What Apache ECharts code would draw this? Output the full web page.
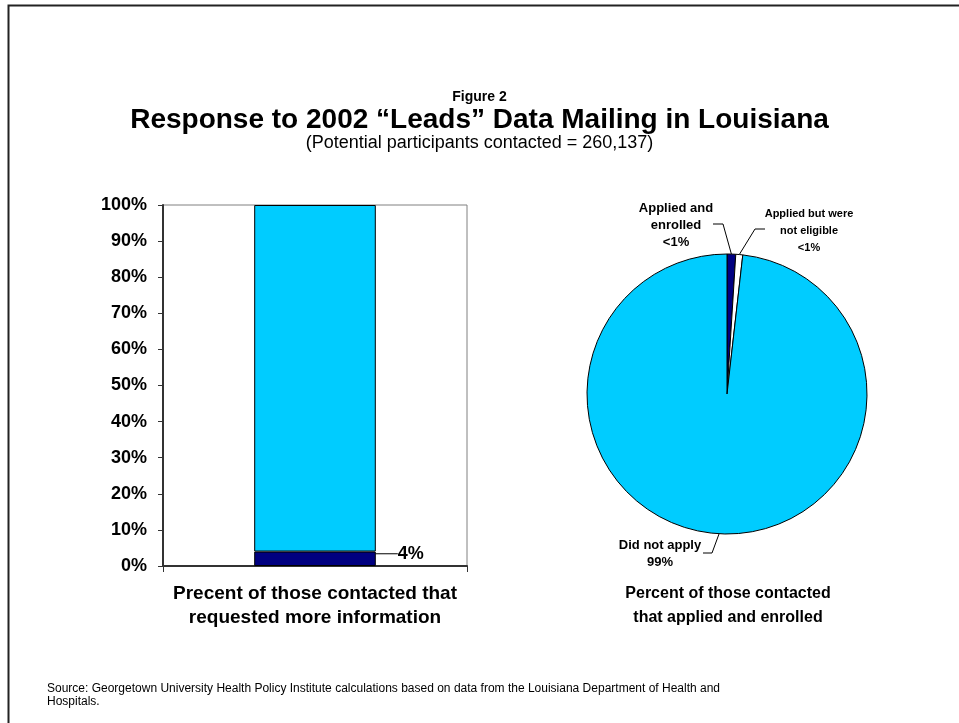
<!DOCTYPE html>
<html>
<head>
<meta charset="utf-8">
<script src="https://cdn.jsdelivr.net/npm/echarts@6/dist/echarts.min.js"></script>
<style>
  html, body { margin: 0; padding: 0; background: #fff; }
  #chart { width: 959px; height: 723px; }
</style>
</head>
<body>
<div id="chart"></div>
<script>
// bar: share of contacted people who asked for more information
var barCategories = ['Precent of those contacted that\nrequested more information']
var requestedValues = [4]
var restValues = [96]
var yTicks = [0, 10, 20, 30, 40, 50, 60, 70, 80, 90, 100]

// pie: of those contacted, who applied / enrolled
var pieNames = ['Applied and enrolled', 'Applied but were not eligible', 'Did not apply']
var pieValues = [1.0, 0.8, 98.2]
var pieLabels = ['Applied and\nenrolled\n<1%', 'Applied but were\nnot eligible\n<1%', 'Did not apply\n99%']

var FONT = 'Arial, "Liberation Sans", sans-serif'
var NAVY = '#000080'
var CYAN = '#00CCFF'

var chart = echarts.init(document.getElementById('chart'))

// where the pie labels sit, and the elbow of each leader line
var pieLabelPos = [
  { x: 676, y: 225, size: 13, elbow: [723, 224], end: [713, 224] },
  { x: 809, y: 231, size: 11, elbow: [755, 229], end: [765, 229] },
  { x: 660, y: 554, size: 13, elbow: [712, 553], end: [703, 553] }
]

chart.setOption({
  animation: false,
  textStyle: { fontFamily: FONT },
  title: [
    {
      text: 'Figure 2',
      left: 'center',
      top: 85,
      textStyle: { fontSize: 14, fontWeight: 'bold', color: '#000', fontFamily: FONT }
    },
    {
      text: 'Response to 2002 \u201cLeads\u201d Data Mailing in Louisiana',
      left: 'center',
      top: 101,
      textStyle: { fontSize: 28, fontWeight: 'bold', color: '#000', fontFamily: FONT }
    },
    {
      text: '(Potential participants contacted = 260,137)',
      left: 'center',
      top: 129,
      textStyle: { fontSize: 18, fontWeight: 'normal', color: '#000', fontFamily: FONT }
    },
    {
      text: 'Percent of those contacted\nthat applied and enrolled',
      left: 723,
      textAlign: 'center',
      top: 577,
      textStyle: { fontSize: 16, fontWeight: 'bold', color: '#000', lineHeight: 24, fontFamily: FONT }
    },
    {
      text: 'Source: Georgetown University Health Policy Institute calculations based on data from the Louisiana Department of Health and\nHospitals.',
      left: 42,
      top: 677,
      textStyle: { fontSize: 12, fontWeight: 'normal', color: '#000', lineHeight: 13, fontFamily: FONT }
    }
  ],
  graphic: [
    {
      type: 'rect',
      left: 6,
      top: 3,
      shape: { width: 970, height: 740 },
      style: { fill: 'none', stroke: '#222', lineWidth: 2 },
      silent: true
    }
  ],
  grid: {
    left: 163,
    top: 205,
    width: 304,
    height: 361,
    show: true,
    borderColor: '#808080',
    borderWidth: 1,
    backgroundColor: 'transparent'
  },
  xAxis: {
    type: 'category',
    data: barCategories,
    axisLine: { lineStyle: { color: '#333', width: 2 } },
    axisTick: { show: true, length: 6, lineStyle: { color: '#333' } },
    axisLabel: {
      margin: 16,
      fontSize: 19,
      fontWeight: 'bold',
      color: '#000',
      lineHeight: 24
    }
  },
  yAxis: {
    type: 'value',
    min: 0,
    max: 100,
    interval: 10,
    axisLine: { show: true, lineStyle: { color: '#333', width: 2 } },
    axisTick: { show: true, length: 5, lineStyle: { color: '#333' } },
    splitLine: { show: false },
    axisLabel: {
      margin: 16,
      fontSize: 18,
      fontWeight: 'bold',
      color: '#000',
      formatter: function(v) {
        return yTicks.indexOf(v) >= 0 ? v + '%' : ''
      }
    }
  },
  series: [
    {
      name: 'Requested more information',
      type: 'bar',
      stack: 'total',
      barWidth: '40%',
      data: requestedValues,
      itemStyle: { color: NAVY, borderColor: '#000', borderWidth: 1 },
      label: {
        show: true,
        position: 'right',
        formatter: '{c}%',
        fontSize: 18,
        fontWeight: 'bold',
        color: '#000'
      },
      labelLayout: function(params) {
        var r = params.rect
        var l = params.labelRect
        return {
          dx: 17,
          dy: -5,
          labelLinePoints: [
            [r.x + r.width, r.y + r.height / 2 + 1],
            [l.x + 13, l.y + l.height / 2 - 7]
          ]
        }
      },
      labelLine: { show: true, lineStyle: { color: '#000', width: 1 } }
    },
    {
      name: 'Did not request',
      type: 'bar',
      stack: 'total',
      barWidth: '40%',
      data: restValues,
      itemStyle: { color: CYAN, borderColor: '#000', borderWidth: 1 }
    },
    {
      name: 'Applied and enrolled',
      type: 'pie',
      center: [727, 394],
      radius: 140,
      startAngle: 90,
      clockwise: true,
      data: pieNames.map(function(n, i) {
        return {
          name: n,
          value: pieValues[i],
          itemStyle: { color: [NAVY, '#FFFFFF', CYAN][i] },
          label: { fontSize: pieLabelPos[i].size }
        }
      }),
      itemStyle: { borderColor: '#000', borderWidth: 1 },
      label: {
        show: true,
        position: 'outside',
        overflow: 'none',
        formatter: function(p) {
          return pieLabels[p.dataIndex]
        },
        fontWeight: 'bold',
        color: '#000',
        lineHeight: 17,
        align: 'center'
      },
      labelLine: { show: true, length: 10, length2: 10, lineStyle: { color: '#000', width: 1 } },
      labelLayout: function(params) {
        var pos = pieLabelPos[params.dataIndex]
        var start = params.labelLinePoints ? params.labelLinePoints[0] : pos.elbow
        return {
          x: pos.x,
          y: pos.y,
          align: 'center',
          verticalAlign: 'middle',
          labelLinePoints: [start, pos.elbow, pos.end]
        }
      }
    }
  ]
})
</script>
</body>
</html>
